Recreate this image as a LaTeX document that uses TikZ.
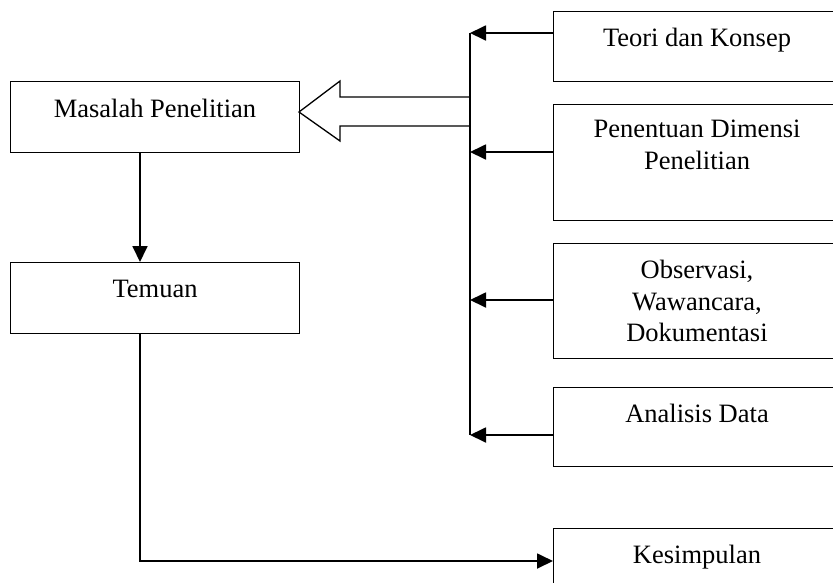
\documentclass[tikz,border=0pt]{standalone}
\usepackage{fontspec}
\setmainfont{Liberation Serif}
\usetikzlibrary{arrows.meta}
\begin{document}
\begin{tikzpicture}[x=1pt,y=-1pt,
  box/.style={draw, line width=1.3pt, inner sep=0pt, anchor=north west},
  lbl/.style={anchor=north, inner sep=0pt, align=center, font=\fontsize{26.5}{31.5}\selectfont},
  conn/.style={line width=1.8pt, -{Triangle[length=16pt,width=15pt]}},
  bus/.style={line width=1.8pt}]
\useasboundingbox (0,0) rectangle (833,582);
% boxes
\node[box, minimum width=289pt, minimum height=71pt] (masalah) at (10,81) {};
\node[box, minimum width=289pt, minimum height=71pt] (temuan) at (10,262) {};
\node[box, minimum width=300pt, minimum height=70pt] (teori) at (553,11) {};
\node[box, minimum width=300pt, minimum height=116pt] (penentuan) at (553,104) {};
\node[box, minimum width=300pt, minimum height=115pt] (observasi) at (553,243) {};
\node[box, minimum width=300pt, minimum height=79pt] (analisis) at (553,387) {};
\node[box, minimum width=300pt, minimum height=72pt] (kesimpulan) at (553,528) {};
% texts
\node[lbl] (masalahT) at (155,99) {Masalah Penelitian};
\node[lbl] (temuanT) at (155,280) {Temuan};
\node[lbl] (teoriT) at (697,28) {Teori dan Konsep};
\node[lbl] (penentuanT) at (697,120) {Penentuan Dimensi\\Penelitian};
\node[lbl] (observasiT) at (697,260) {Observasi,\\Wawancara,\\Dokumentasi};
\node[lbl] (analisisT) at (697,404) {Analisis Data};
\node[lbl] (kesimpulanT) at (697,545) {Kesimpulan};
% bus
\coordinate (b1) at (470,33);
\coordinate (b2) at (470,152);
\coordinate (b3) at (470,300);
\coordinate (b4) at (470,435);
\draw[bus] (b1) -- (b4);
\draw[conn] (teori.west |- b1) -- (b1);
\draw[conn] (penentuan.west |- b2) -- (b2);
\draw[conn] (observasi.west |- b3) -- (b3);
\draw[conn] (analisis.west |- b4) -- (b4);
% hollow arrow
\coordinate (tip) at (299,112);
\draw[line width=1.3pt, line join=miter] (470,97) -- (340,97) -- (340,81) -- (tip) -- (340,141) -- (340,126) -- (470,126);
% left column
\coordinate (d) at (140,0);
\coordinate (k) at (0,561);
\draw[conn] (masalah.south -| d) -- (temuan.north -| d);
\draw[conn] (temuan.south -| d) |- (kesimpulan.west |- k);
\end{tikzpicture}
\end{document}
